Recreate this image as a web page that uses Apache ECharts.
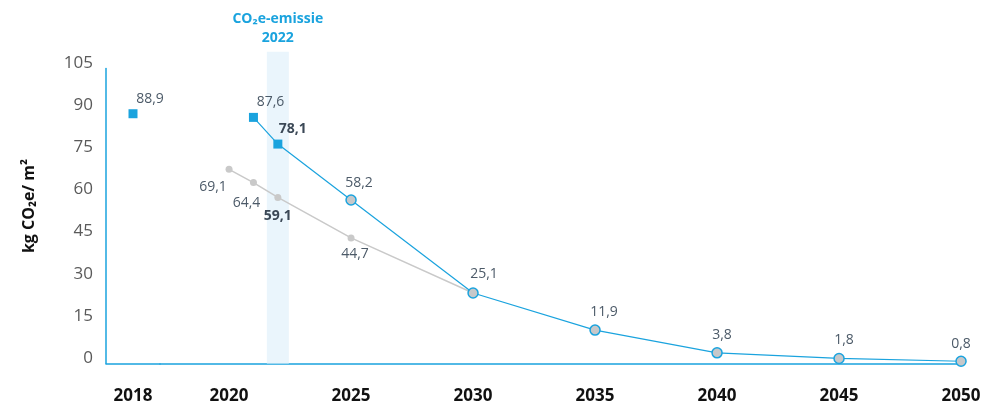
<!DOCTYPE html>
<html>
<head>
<meta charset="utf-8">
<script src="https://cdn.jsdelivr.net/npm/echarts@6/dist/echarts.min.js"></script>
<style>
  html, body { margin: 0; padding: 0; background: #fff; }
  #chart { width: 1002px; height: 406px; }
</style>
</head>
<body>
<div id="chart"></div>
<script>
// data
const startYear = '2018';
const startValue = 88.9;
const blueYears = [2021, 2022, 2025, 2030, 2035, 2040, 2045, 2050];
const blueValues = [87.6, 78.1, 58.2, 25.1, 11.9, 3.8, 1.8, 0.8];
const greyYears = [2020, 2021, 2022, 2025, 2030];
const greyValues = [69.1, 64.4, 59.1, 44.7, 25.1];
const highlightYear = 2022;
const highlightTitle = 'CO\u2082e-emissie\n2022';
const xTicks = [2020, 2025, 2030, 2035, 2040, 2045, 2050];
const yName = 'kg CO\u2082e/ m\u00b2';

const BLUE = '#1aa3de';
const GREY = '#c9c9c9';
const LABEL = '#4c5a68';
const FONT = '"Open Sans", "DejaVu Sans", sans-serif';

const fmt = v => String(v).replace('.', ',');

// label offsets per point (style only)
const blueOffsets = [[17, -15], [15, -15], [8, -17], [11, -19], [9, -18], [5, -18], [5, -18], [0, -17]];
const greyOffsets = [[-16, 18], [-7, 20], [0, 19], [4, 16], null];

const chart = echarts.init(document.getElementById('chart'));

const labelBase = {
  show: true,
  position: 'inside',
  color: LABEL,
  fontFamily: FONT,
  fontSize: 14
};

const blueData = blueYears.map((y, i) => ({
  value: [y, blueValues[i]],
  symbol: y <= highlightYear ? 'rect' : 'circle',
  symbolSize: y <= highlightYear ? 9 : 10,
  itemStyle: y <= highlightYear
    ? { color: BLUE, borderWidth: 0 }
    : { color: '#c6c8ca', borderColor: BLUE, borderWidth: 1.5 },
  label: Object.assign({}, labelBase, {
    offset: blueOffsets[i],
    fontWeight: y === highlightYear ? 'bold' : 'normal',
    color: y === highlightYear ? '#3b4856' : LABEL
  })
}));

const greyData = greyYears.map((y, i) => ({
  value: [y, greyValues[i]],
  label: greyOffsets[i]
    ? Object.assign({}, labelBase, {
        offset: greyOffsets[i],
        fontWeight: y === highlightYear ? 'bold' : 'normal',
        color: y === highlightYear ? '#3b4856' : LABEL
      })
    : { show: false }
}));

const option = {
  backgroundColor: '#fff',
  animation: false,
  grid: [
    { left: 106, width: 54, top: 68.5, bottom: 42.5, outerBoundsMode: 'none', containLabel: false },
    { left: 160, right: 39, top: 68.5, bottom: 42.5, outerBoundsMode: 'none', containLabel: false }
  ],
  xAxis: [
    {
      gridIndex: 0,
      type: 'category',
      data: [startYear],
      boundaryGap: true,
      axisLine: { lineStyle: { color: BLUE, width: 1.5 } },
      axisTick: { show: false },
      axisLabel: { color: '#111', fontFamily: FONT, fontWeight: 'bold', fontSize: 17, margin: 24 },
      splitLine: { show: false }
    },
    {
      gridIndex: 1,
      type: 'value',
      min: 2017.17,
      max: 2050.08,
      axisLine: { onZero: false, lineStyle: { color: BLUE, width: 1.5 } },
      axisTick: { show: false },
      axisLabel: {
        customValues: xTicks,
        color: '#111', fontFamily: FONT, fontWeight: 'bold', fontSize: 17, margin: 24,
        formatter: v => String(v)
      },
      splitLine: { show: false }
    }
  ],
  yAxis: [
    {
      gridIndex: 0,
      type: 'value',
      min: 0,
      max: 105,
      interval: 15,
      name: yName,
      nameLocation: 'middle',
      nameGap: 69,
      nameTextStyle: { color: '#111', fontFamily: FONT, fontWeight: 'bold', fontSize: 16, padding: [0, 0, 0, 20] },
      axisLine: { show: true, lineStyle: { color: BLUE, width: 1.5 } },
      axisTick: { show: false },
      axisLabel: {
        color: '#5a5a5a', fontFamily: FONT, fontSize: 17, margin: 13,
        verticalAlign: 'bottom', lineHeight: 11
      },
      splitLine: { show: false }
    },
    {
      gridIndex: 1,
      type: 'value',
      min: 0,
      max: 105,
      interval: 15,
      show: false
    }
  ],
  series: [
    {
      name: 'highlight',
      type: 'bar',
      xAxisIndex: 1,
      yAxisIndex: 1,
      clip: false,
      barWidth: 22,
      silent: true,
      z: 1,
      data: [[highlightYear, 111]],
      itemStyle: { color: '#eaf5fc' },
      label: {
        show: true,
        position: 'top',
        distance: 4,
        formatter: highlightTitle,
        color: BLUE,
        fontFamily: FONT,
        fontWeight: 'bold',
        fontSize: 14,
        lineHeight: 19,
        align: 'center'
      }
    },
    {
      name: 'start',
      type: 'scatter',
      xAxisIndex: 0,
      yAxisIndex: 0,
      symbol: 'rect',
      symbolSize: 9,
      z: 5,
      itemStyle: { color: BLUE, opacity: 1 },
      label: Object.assign({}, labelBase, { offset: [17, -15], formatter: p => fmt(p.value) }),
      data: [startValue]
    },
    {
      name: 'grey',
      type: 'line',
      xAxisIndex: 1,
      yAxisIndex: 1,
      z: 3,
      symbol: 'circle',
      symbolSize: 7,
      showAllSymbol: true,
      lineStyle: { color: GREY, width: 1.5 },
      itemStyle: { color: GREY },
      label: { formatter: p => fmt(p.value[1]) },
      data: greyData
    },
    {
      name: 'blue',
      type: 'line',
      xAxisIndex: 1,
      yAxisIndex: 1,
      z: 4,
      showAllSymbol: true,
      lineStyle: { color: BLUE, width: 1.2 },
      label: { formatter: p => fmt(p.value[1]) },
      data: blueData
    }
  ]
};

chart.setOption(option);
</script>
</body>
</html>
